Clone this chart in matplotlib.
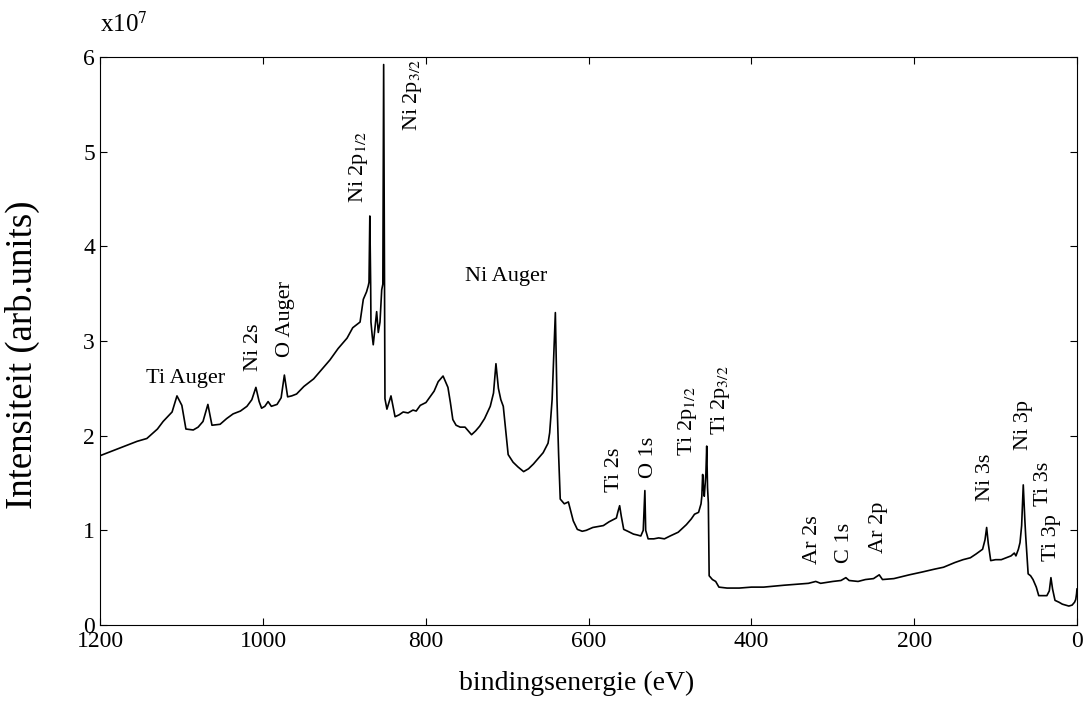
import matplotlib
matplotlib.use("Agg")
import matplotlib.pyplot as plt

# XPS survey spectrum (eV, intensity in units of 1e7)
energy = [1200, 1185, 1170, 1155, 1143, 1130, 1123, 1112, 1106, 1100, 1095, 1086,
          1080, 1074, 1068, 1063, 1053, 1045, 1037, 1028, 1020, 1014, 1009, 1005,
          1002, 998, 994, 990, 983, 978, 974, 970, 965, 959, 950, 938, 928, 918,
          908, 897, 890, 881, 877, 873, 871, 870, 869, 868, 867.6, 866, 864.8,
          862.5, 860.6, 858.6, 856.5, 854.4, 853, 852, 851, 850.4, 848, 843, 838,
          833, 828, 822, 816, 812, 807, 800, 795, 790, 785, 779, 773, 770, 767,
          763, 758, 752, 748, 744, 739, 734, 728, 721, 717, 714, 711, 708, 705,
          702, 699, 693, 687, 680, 674, 668, 662, 656, 650, 648, 645, 643, 641,
          639, 637, 635, 630, 625, 619, 614, 608, 603, 595, 582, 575, 566, 564,
          562, 560, 557, 552, 545, 540, 536, 533, 531, 530, 527, 520, 514, 507,
          500, 490, 480, 474, 470, 465, 462, 461, 460, 459, 458, 456, 455, 454,
          453, 452, 448, 444, 440, 430, 415, 400, 385, 373, 360, 345, 330, 321,
          315, 300, 290, 284, 280, 269, 260, 250, 243, 239, 225, 206, 190, 175,
          164, 150, 140, 131, 124, 116, 113, 111, 109, 106, 100, 93, 87, 81, 77,
          75, 72, 70, 68, 66, 64, 63, 60, 57, 54, 50, 47, 42, 37, 34, 32, 30, 27,
          22, 18, 14, 10, 6, 3, 1.5, 0.5, 0]
intensity = [1.79, 1.84, 1.89, 1.94, 1.97, 2.07, 2.15, 2.25, 2.42, 2.32, 2.07, 2.06,
             2.09, 2.15, 2.33, 2.11, 2.12, 2.18, 2.23, 2.26, 2.31, 2.38, 2.51, 2.36,
             2.29, 2.31, 2.36, 2.31, 2.33, 2.40, 2.64, 2.41, 2.42, 2.44, 2.52, 2.60,
             2.70, 2.80, 2.92, 3.03, 3.14, 3.20, 3.44, 3.52, 3.58, 3.62, 4.32, 3.62,
             3.20, 3.05, 2.96, 3.15, 3.31, 3.09, 3.20, 3.54, 3.60, 5.92, 3.60, 2.39,
             2.28, 2.42, 2.20, 2.22, 2.25, 2.24, 2.27, 2.26, 2.32, 2.35, 2.41, 2.47,
             2.57, 2.63, 2.51, 2.35, 2.17, 2.11, 2.09, 2.09, 2.05, 2.01, 2.05, 2.10,
             2.18, 2.31, 2.45, 2.76, 2.50, 2.38, 2.31, 2.05, 1.80, 1.72, 1.67, 1.62,
             1.65, 1.70, 1.76, 1.82, 1.92, 2.03, 2.38, 2.85, 3.30, 2.38, 1.80, 1.33,
             1.28, 1.30, 1.10, 1.01, 0.99, 1.00, 1.03, 1.05, 1.09, 1.13, 1.20, 1.26,
             1.15, 1.01, 0.99, 0.96, 0.95, 0.94, 1.00, 1.42, 1.00, 0.91, 0.91, 0.92,
             0.91, 0.94, 0.98, 1.06, 1.12, 1.17, 1.19, 1.28, 1.36, 1.59, 1.45, 1.36,
             1.60, 1.89, 1.45, 1.29, 0.52, 0.48, 0.46, 0.40, 0.39, 0.39, 0.40, 0.40,
             0.41, 0.42, 0.43, 0.44, 0.46, 0.44, 0.46, 0.47, 0.50, 0.47, 0.46, 0.48,
             0.49, 0.53, 0.48, 0.49, 0.53, 0.56, 0.59, 0.61, 0.66, 0.69, 0.71, 0.75,
             0.80, 0.90, 1.03, 0.86, 0.68, 0.69, 0.69, 0.71, 0.73, 0.76, 0.73, 0.80,
             0.87, 1.05, 1.48, 1.10, 0.94, 0.54, 0.52, 0.48, 0.40, 0.31, 0.31, 0.31,
             0.36, 0.50, 0.38, 0.26, 0.24, 0.22, 0.21, 0.20, 0.21, 0.24, 0.27, 0.33,
             0.38]

# peak labels
peak_labels = ["Ni 2s", "O Auger", "Ni 2p$_{1/2}$", "Ni 2p$_{3/2}$", "Ti 2s", "O 1s",
               "Ti 2p$_{1/2}$", "Ti 2p$_{3/2}$", "Ar 2s", "C 1s", "Ar 2p", "Ni 3s",
               "Ni 3p", "Ti 3s", "Ti 3p"]
peak_x = [1012, 973, 883, 816, 568, 527, 478, 438, 325, 286, 244, 112, 66, 41, 31]
peak_y = [2.68, 2.83, 4.46, 5.22, 1.41, 1.55, 1.78, 2.01, 0.64, 0.66, 0.76, 1.31,
          1.85, 1.26, 0.68]

plt.rcParams['font.family'] = ['Liberation Serif', 'DejaVu Serif']
plt.rcParams['mathtext.fontset'] = 'stix'

fig = plt.figure(figsize=(10.85, 7.07), dpi=100)
ax = fig.add_axes([0.0926, 0.116, 0.9, 0.8034])

ax.plot(energy, intensity, color='black', lw=1.2)

ax.set_xlim(1200, 0)
ax.set_ylim(0, 6)
ax.set_xticks(range(0, 1201, 200))
ax.set_yticks(range(0, 7))
ax.tick_params(direction='in', top=True, right=True, length=5, labelsize=17, pad=4)
ax.set_xlabel('bindingsenergie (eV)', fontsize=20, labelpad=14)
ax.xaxis.label.set_x(0.488)
ax.set_ylabel('Intensiteit (arb.units)', fontsize=26.5)
ax.yaxis.set_label_coords(-0.062, 0.475)

ax.text(0.0, 1.035, 'x10$^7$', transform=ax.transAxes, fontsize=18,
        ha='left', va='bottom')

ax.text(1096, 2.6, 'Ti Auger', fontsize=16, ha='center', va='center')
ax.text(701, 3.68, 'Ni Auger', fontsize=16, ha='center', va='center')
for lab, x, y in zip(peak_labels, peak_x, peak_y):
    ax.text(x, y, lab, fontsize=16, rotation=90, ha='center', va='bottom')

fig.savefig('out.png', dpi=100)
